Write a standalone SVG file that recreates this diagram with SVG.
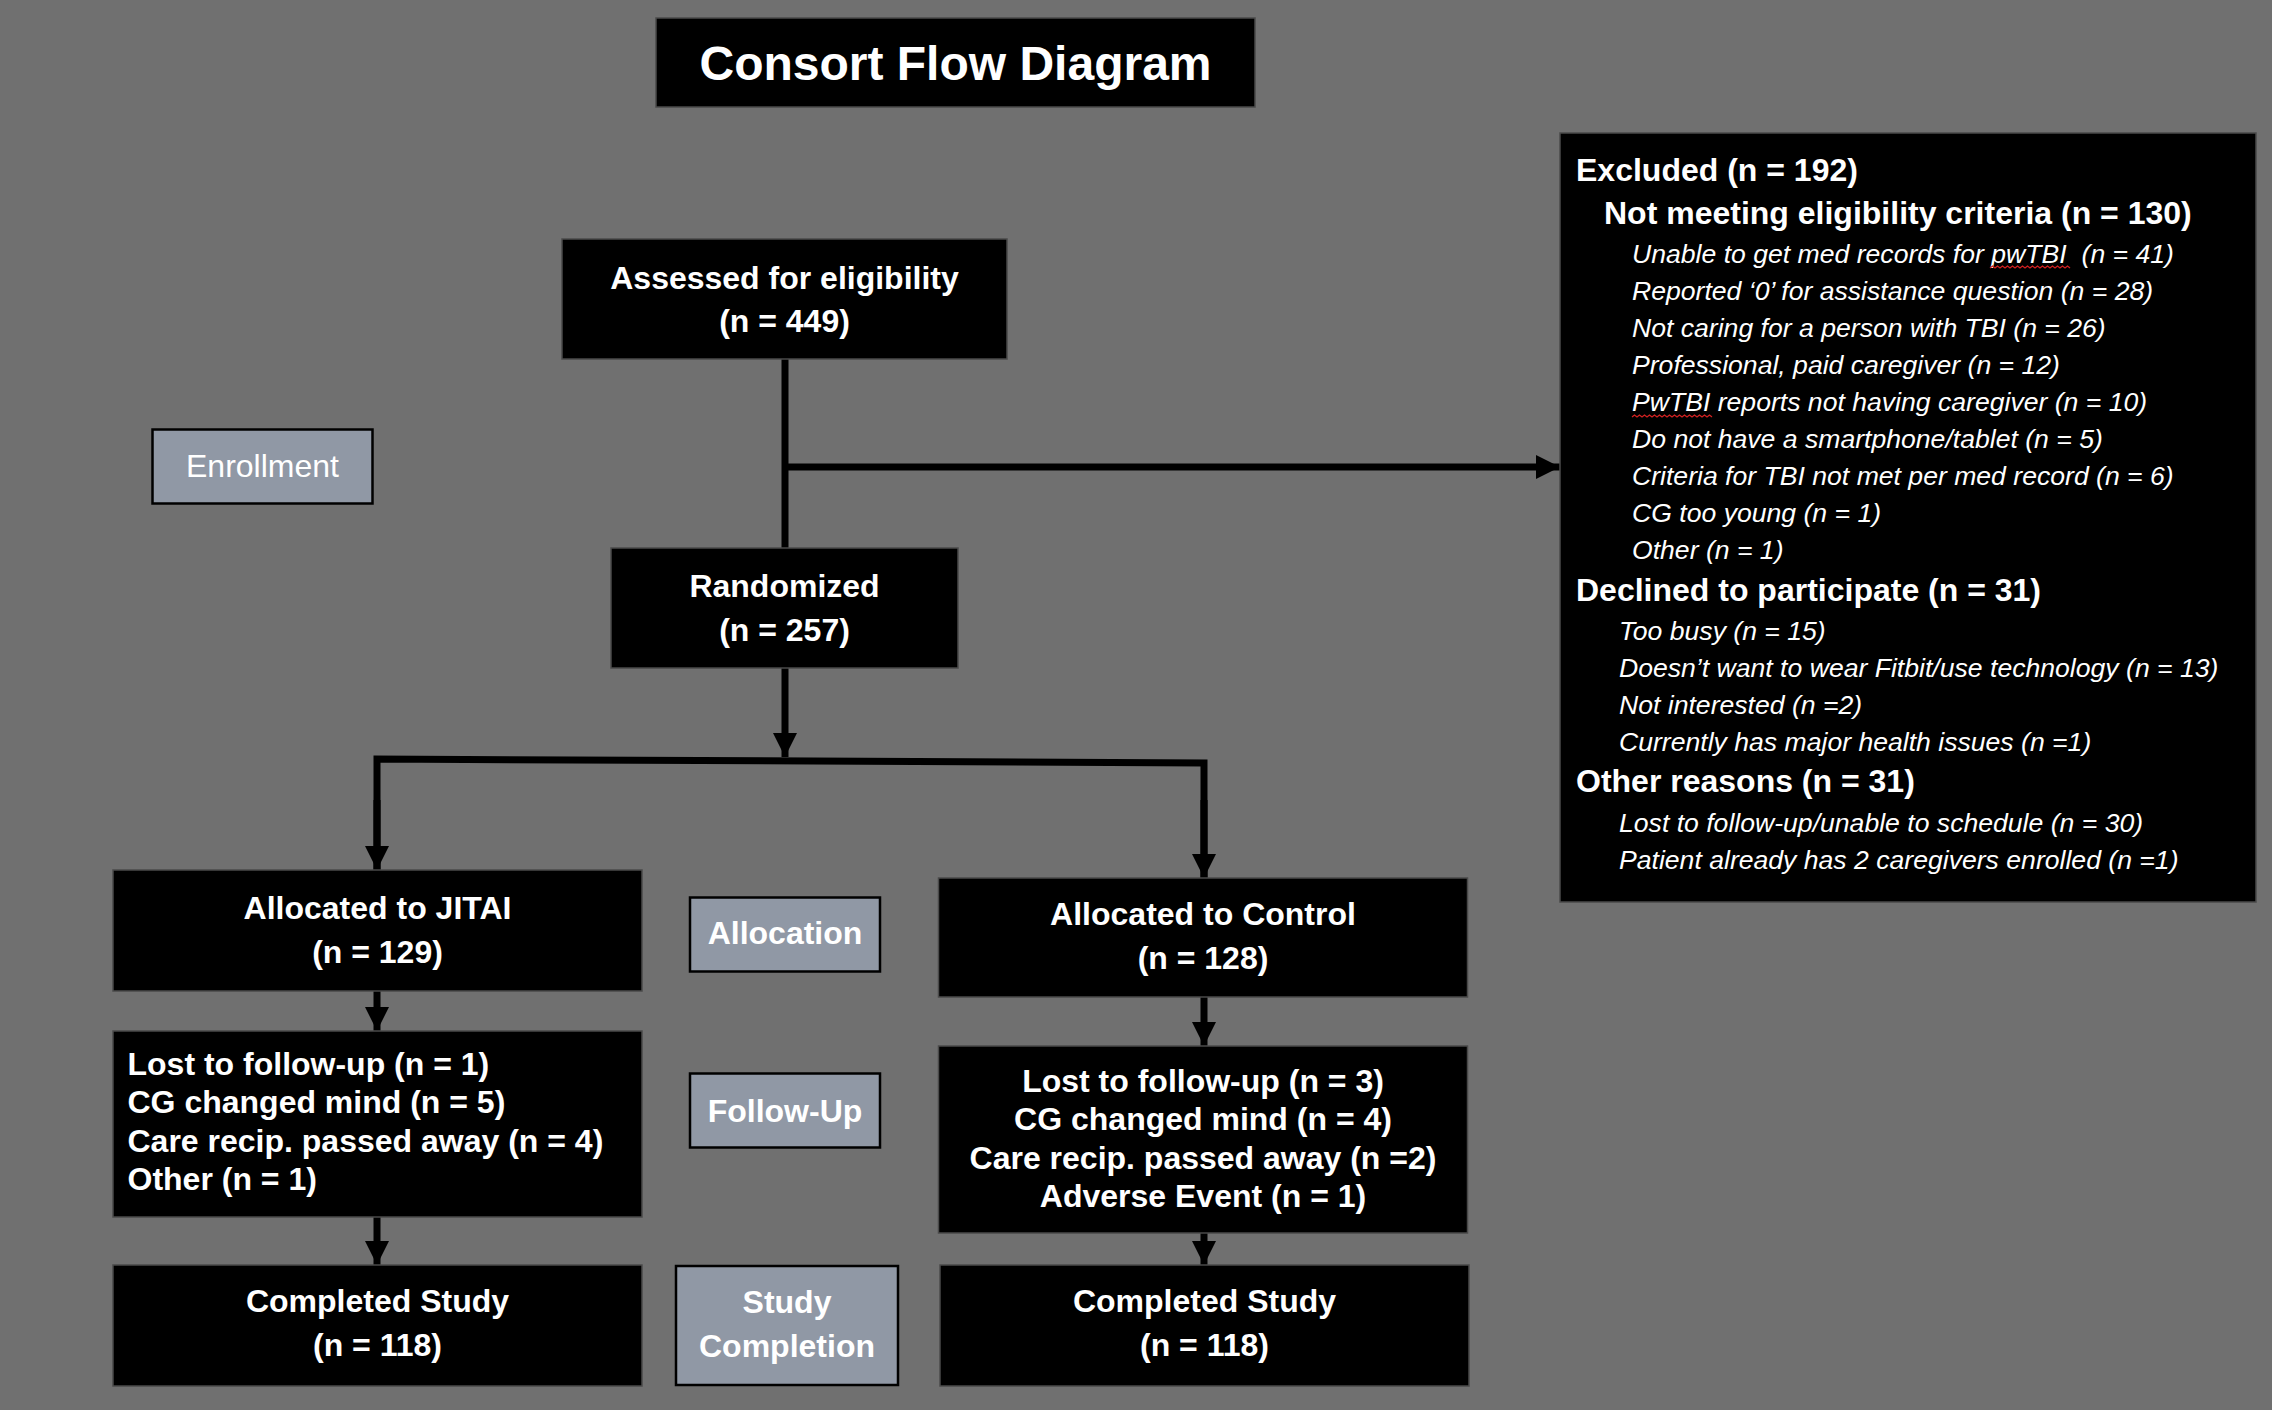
<svg xmlns="http://www.w3.org/2000/svg" width="2272" height="1410" viewBox="0 0 2272 1410">
<style>
.bg{fill:#707070}
.box{fill:#000;stroke:#4a4a4a;stroke-width:1.5}
.lab{fill:#9098a5;stroke:#000;stroke-width:2.5}
text{font-family:"Liberation Sans",Arial,sans-serif;fill:#fff}
.b{font-weight:bold;font-size:32px}
.c{text-anchor:middle}
.r{font-size:32px}
.it{font-style:italic;font-size:26.6px}
.title{font-weight:bold;font-size:48px;text-anchor:middle}
.con{fill:none;stroke:#000;stroke-width:7}
.sq{fill:none;stroke:#d02020;stroke-width:1.3}
</style>
<defs>
<marker id="ah" markerUnits="userSpaceOnUse" markerWidth="26" markerHeight="26" refX="24" refY="12" orient="auto">
<path d="M0,0 L24,12 L0,24 Z" fill="#000"/>
</marker>
</defs>
<rect class="bg" x="0" y="0" width="2272" height="1410"/>

<g id="connectors">
<line class="con" x1="785" y1="359" x2="785" y2="548"/>
<line class="con" x1="785" y1="467" x2="1560" y2="467" marker-end="url(#ah)"/>
<line class="con" x1="785" y1="668" x2="785" y2="757" marker-end="url(#ah)"/>
<polyline class="con" points="377,870 377,759 1204,763 1204,878"/>
<line class="con" x1="377" y1="800" x2="377" y2="870" marker-end="url(#ah)"/>
<line class="con" x1="1204" y1="800" x2="1204" y2="878" marker-end="url(#ah)"/>
<line class="con" x1="377" y1="991" x2="377" y2="1031" marker-end="url(#ah)"/>
<line class="con" x1="377" y1="1217" x2="377" y2="1265" marker-end="url(#ah)"/>
<line class="con" x1="1204" y1="997" x2="1204" y2="1046" marker-end="url(#ah)"/>
<line class="con" x1="1204" y1="1233" x2="1204" y2="1265" marker-end="url(#ah)"/>
</g>

<g id="title">
<rect class="box" x="656" y="18" width="599" height="89"/>
<text class="title" x="955.5" y="80">Consort Flow Diagram</text>
</g>

<g id="assessed">
<rect class="box" x="562" y="239" width="445" height="120"/>
<text class="b c" x="784.5" y="288.5">Assessed for eligibility</text>
<text class="b c" x="784.5" y="331.5">(n = 449)</text>
</g>

<g id="enrollment">
<rect class="lab" x="152.5" y="429.5" width="220" height="74"/>
<text class="r c" x="262.5" y="477">Enrollment</text>
</g>

<g id="randomized">
<rect class="box" x="611" y="548" width="347" height="120"/>
<text class="b c" x="784.5" y="596.5">Randomized</text>
<text class="b c" x="784.5" y="640.5">(n = 257)</text>
</g>

<g id="excluded">
<rect class="box" x="1560" y="133" width="696" height="769"/>
<text class="b" x="1576" y="181">Excluded (n = 192)</text>
<text class="b" x="1604" y="224">Not meeting eligibility criteria (n = 130)</text>
<text class="it" x="1632" y="262.5">Unable to get med records for pwTBI<tspan dx="15">(n = 41)</tspan></text>
<text class="it" x="1632" y="299.6">Reported ‘0’ for assistance question (n = 28)</text>
<text class="it" x="1632" y="336.7">Not caring for a person with TBI (n = 26)</text>
<text class="it" x="1632" y="373.8">Professional, paid caregiver (n = 12)</text>
<text class="it" x="1632" y="410.9">PwTBI reports not having caregiver (n = 10)</text>
<text class="it" x="1632" y="448">Do not have a smartphone/tablet (n = 5)</text>
<text class="it" x="1632" y="485.1">Criteria for TBI not met per med record (n = 6)</text>
<text class="it" x="1632" y="522.2">CG too young (n = 1)</text>
<text class="it" x="1632" y="559.3">Other (n = 1)</text>
<text class="b" x="1576" y="601">Declined to participate (n = 31)</text>
<text class="it" x="1619" y="640">Too busy (n = 15)</text>
<text class="it" x="1619" y="676.5">Doesn’t want to wear Fitbit/use technology (n = 13)</text>
<text class="it" x="1619" y="713.5">Not interested (n =2)</text>
<text class="it" x="1619" y="750.5">Currently has major health issues (n =1)</text>
<text class="b" x="1576" y="792">Other reasons (n = 31)</text>
<text class="it" x="1619" y="831.5">Lost to follow-up/unable to schedule (n = 30)</text>
<text class="it" x="1619" y="868.5">Patient already has 2 caregivers enrolled (n =1)</text>
<path class="sq" d="M1990,268 l2.5,-2 l2.5,2 l2.5,-2 l2.5,2 l2.5,-2 l2.5,2 l2.5,-2 l2.5,2 l2.5,-2 l2.5,2 l2.5,-2 l2.5,2 l2.5,-2 l2.5,2 l2.5,-2 l2.5,2 l2.5,-2 l2.5,2 l2.5,-2 l2.5,2 l2.5,-2 l2.5,2 l2.5,-2 l2.5,2 l2.5,-2 l2.5,2 l2.5,-2 l2.5,2 l2.5,-2 l2.5,2 l2.5,-2 l2.5,2"/>
<path class="sq" d="M1632,417 l2.5,-2 l2.5,2 l2.5,-2 l2.5,2 l2.5,-2 l2.5,2 l2.5,-2 l2.5,2 l2.5,-2 l2.5,2 l2.5,-2 l2.5,2 l2.5,-2 l2.5,2 l2.5,-2 l2.5,2 l2.5,-2 l2.5,2 l2.5,-2 l2.5,2 l2.5,-2 l2.5,2 l2.5,-2 l2.5,2 l2.5,-2 l2.5,2 l2.5,-2 l2.5,2 l2.5,-2 l2.5,2 l2.5,-2 l2.5,2"/>
</g>

<g id="jitai">
<rect class="box" x="113" y="870" width="529" height="121"/>
<text class="b c" x="377.5" y="918.5">Allocated to JITAI</text>
<text class="b c" x="377.5" y="962.5">(n = 129)</text>
</g>

<g id="allocation">
<rect class="lab" x="690" y="897.5" width="190" height="74"/>
<text class="b c" x="785" y="943.5">Allocation</text>
</g>

<g id="control">
<rect class="box" x="938.5" y="878" width="529" height="119"/>
<text class="b c" x="1203" y="925">Allocated to Control</text>
<text class="b c" x="1203" y="969">(n = 128)</text>
</g>

<g id="jitai-followup">
<rect class="box" x="113" y="1031" width="529" height="186"/>
<text class="b" x="127.5" y="1075">Lost to follow-up (n = 1)</text>
<text class="b" x="127.5" y="1113.3">CG changed mind (n = 5)</text>
<text class="b" x="127.5" y="1151.6">Care recip. passed away (n = 4)</text>
<text class="b" x="127.5" y="1190">Other (n = 1)</text>
</g>

<g id="followup-label">
<rect class="lab" x="690" y="1073.5" width="190" height="74"/>
<text class="b c" x="785" y="1121.5">Follow-Up</text>
</g>

<g id="control-followup">
<rect class="box" x="938.5" y="1046" width="529" height="187"/>
<text class="b c" x="1203" y="1092">Lost to follow-up (n = 3)</text>
<text class="b c" x="1203" y="1130.4">CG changed mind (n = 4)</text>
<text class="b c" x="1203" y="1168.8">Care recip. passed away (n =2)</text>
<text class="b c" x="1203" y="1207.2">Adverse Event (n = 1)</text>
</g>

<g id="jitai-completed">
<rect class="box" x="113" y="1265" width="529" height="121"/>
<text class="b c" x="377.5" y="1311.5">Completed Study</text>
<text class="b c" x="377.5" y="1355.5">(n = 118)</text>
</g>

<g id="study-completion">
<rect class="lab" x="676" y="1266" width="222" height="119"/>
<text class="b c" x="787" y="1312.5">Study</text>
<text class="b c" x="787" y="1356.5">Completion</text>
</g>

<g id="control-completed">
<rect class="box" x="940" y="1265" width="529" height="121"/>
<text class="b c" x="1204.5" y="1311.5">Completed Study</text>
<text class="b c" x="1204.5" y="1355.5">(n = 118)</text>
</g>
</svg>
